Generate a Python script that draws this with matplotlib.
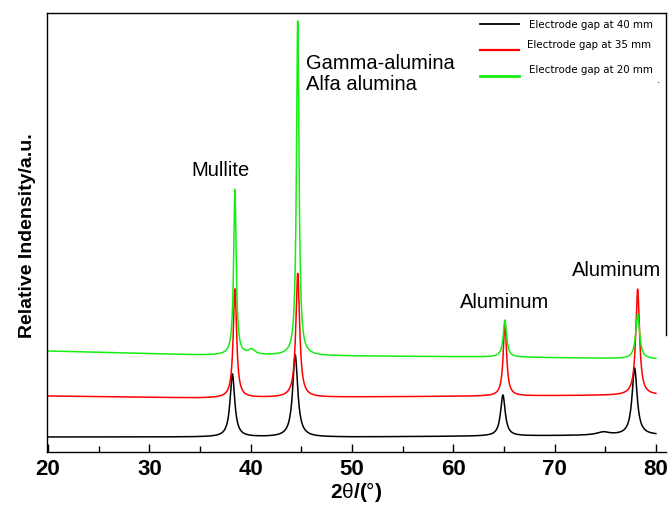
import numpy as np
import matplotlib
matplotlib.use("Agg")
import matplotlib.pyplot as plt
from matplotlib.lines import Line2D
from matplotlib.ticker import MultipleLocator

plt.rcParams['font.family'] = ['Liberation Sans', 'DejaVu Sans']
plt.rcParams['mathtext.fontset'] = 'custom'
plt.rcParams['mathtext.rm'] = 'Liberation Sans'
plt.rcParams['mathtext.it'] = 'Liberation Sans'
plt.rcParams['mathtext.bf'] = 'Liberation Sans:bold'

# series labels and colours
labels = ["Electrode gap at 40 mm", "Electrode gap at 35 mm", "Electrode gap at 20 mm"]
colors = ["black", "#ff0000", "#14ee14"]

# baselines (arbitrary units), at these 2theta anchors
base_x = [20, 35, 50, 65, 80]
base_black = [15, 15, 15, 16, 17]
base_red = [56, 54, 55, 56, 57]
base_green = [101, 97, 96, 95, 93]

# peaks: position (deg), height above baseline, FWHM (deg)
pk_black_pos = [38.2, 44.4, 64.9, 74.8, 77.9]
pk_black_amp = [63, 82, 41, 3, 67]
pk_black_fwhm = [0.55, 0.6, 0.55, 1.5, 0.6]

pk_red_pos = [38.45, 44.65, 65.1, 78.2]
pk_red_amp = [109, 124, 73, 106]
pk_red_fwhm = [0.4, 0.45, 0.4, 0.45]

pk_green_pos = [38.45, 40.1, 44.65, 65.1, 78.2]
pk_green_amp = [166, 5, 336, 37, 45]
pk_green_fwhm = [0.3, 0.8, 0.3, 0.4, 0.45]

# peak annotations
notes = ["Mullite", "Gamma-alumina\nAlfa alumina", "Aluminum", "Aluminum"]


def pattern(x, bx, by, pos, amp, fwhm):
    y = np.interp(x, bx, by)
    for p, a, w in zip(pos, amp, fwhm):
        g = w / 2.0
        y = y + a * g**2 / ((x - p)**2 + g**2)
    return y


two_theta = np.arange(20, 80.001, 0.02)
curves = [
    pattern(two_theta, base_x, base_black, pk_black_pos, pk_black_amp, pk_black_fwhm),
    pattern(two_theta, base_x, base_red, pk_red_pos, pk_red_amp, pk_red_fwhm),
    pattern(two_theta, base_x, base_green, pk_green_pos, pk_green_amp, pk_green_fwhm),
]

W, H = 669, 508
fig = plt.figure(figsize=(W / 100, H / 100), dpi=100)
ax = fig.add_axes([47 / W, 1 - 452 / H, (666 - 47) / W, (452 - 13) / H])

for y, c in zip(curves, colors):
    ax.plot(two_theta, y, color=c, lw=1.1)

ax.set_xlim(19.9, 81.0)
ax.set_ylim(0, 439)
ax.xaxis.set_major_locator(MultipleLocator(10))
ax.xaxis.set_minor_locator(MultipleLocator(5))
ax.set_yticks([])
ax.tick_params(axis='x', which='major', direction='in', length=6, width=1,
               labelsize=16, pad=5)
ax.tick_params(axis='x', which='minor', direction='in', length=4, width=1)
for lab in ax.get_xticklabels():
    lab.set_fontweight('bold')
for s in ax.spines.values():
    s.set_linewidth(1.0)
ax.spines['right'].set_visible(False)
# right frame only on the upper part
ax.add_line(Line2D([1, 1], [1, (452 - 335) / 439], transform=ax.transAxes,
                   color='black', lw=1.0, clip_on=False))

ax.set_xlabel(r'$\mathbf{2}\theta\mathbf{/(}$°$\mathbf{)}$', fontsize=15, labelpad=0)
ax.set_ylabel('Relative Indensity/a.u.', fontsize=14, fontweight='bold')
ax.yaxis.set_label_coords(-0.018, 0.494)

# annotations
ax.text(37.0, 272, notes[0], fontsize=14.5, ha='center', va='bottom')
ax.text(45.5, 358, notes[1], fontsize=14.5, ha='left', va='bottom', linespacing=1.15)
ax.text(65.1, 140, notes[2], fontsize=14.5, ha='center', va='bottom')
ax.text(76.15, 172, notes[3], fontsize=14.5, ha='center', va='bottom')

# legend drawn by hand
def fx(px):
    return px / W


def fy(py):
    return 1 - py / H


line_y = [24, 50, 76]
line_w = [1.3, 1.6, 2.0]
text_y = [25, 45, 70]
text_x = [529, 527, 529]
for lab, c, ly, lw, ty, tx in zip(labels, colors, line_y, line_w, text_y, text_x):
    fig.add_artist(Line2D([fx(480), fx(519)], [fy(ly), fy(ly)], color=c, lw=lw))
    fig.text(fx(tx), fy(ty), lab, fontsize=7.4, family='DejaVu Sans',
             ha='left', va='center')
fig.text(fx(657), fy(80), '.', fontsize=7.4, family='DejaVu Sans', ha='left', va='center')

fig.savefig('out.png', dpi=100)
